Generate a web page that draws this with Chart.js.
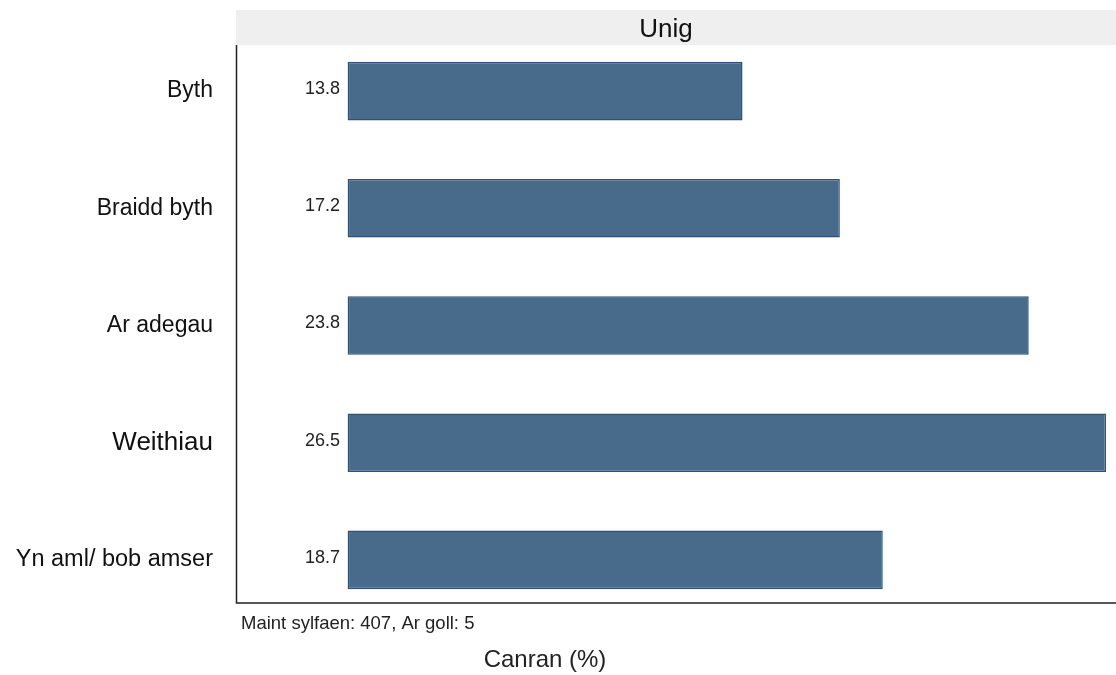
<!DOCTYPE html>
<html>
<head>
<meta charset="utf-8">
<script src="https://cdn.jsdelivr.net/npm/chart.js@4/dist/chart.umd.min.js"></script>
<style>
  html, body { margin: 0; padding: 0; background: #fff; }
  #wrap { width: 1116px; height: 675px; position: relative; }
</style>
</head>
<body>
<div id="wrap"><canvas id="chart"></canvas></div>
<script>
// data
const categories = ["Byth", "Braidd byth", "Ar adegau", "Weithiau", "Yn aml/ bob amser"];
const values = [13.8, 17.2, 23.8, 26.5, 18.7];
const panelTitle = "Unig";
const baseNote = "Maint sylfaen: 407, Ar goll: 5";
const axisTitle = "Canran (%)";

const FONT = "'Liberation Sans', Arial, sans-serif";

// frame, facet strip, value labels and notes
const decor = {
    id: "decor",
    beforeDatasetsDraw(chart) {
        let ctx = chart.ctx;
        let area = chart.chartArea;
        ctx.save();
        // strip
        ctx.fillStyle = "#efefef";
        ctx.fillRect(area.left, 10, area.right - area.left, 35);
        ctx.fillStyle = "#111";
        ctx.font = "26px " + FONT;
        ctx.textAlign = "center";
        ctx.textBaseline = "middle";
        ctx.fillText(panelTitle, 666, 30);
        // axis lines
        ctx.strokeStyle = "#222";
        ctx.lineWidth = 1.5;
        ctx.beginPath();
        ctx.moveTo(area.left + 0.5, 45);
        ctx.lineTo(area.left + 0.5, 603);
        ctx.lineTo(area.right, 603);
        ctx.stroke();
        ctx.restore();
    },
    afterDatasetsDraw(chart) {
        let ctx = chart.ctx;
        let xs = chart.scales.x;
        let ys = chart.scales.y;
        ctx.save();
        ctx.fillStyle = "#222";
        ctx.font = "18px " + FONT;
        ctx.textAlign = "right";
        ctx.textBaseline = "middle";
        for (let i = 0; i < values.length; i++) {
            ctx.fillText(values[i].toFixed(1), xs.getPixelForValue(0) - 7.5, ys.getPixelForValue(i) - 2);
        };
        ctx.textAlign = "left";
        ctx.font = "18.5px " + FONT;
        ctx.fillText(baseNote, 241, 624);
        ctx.font = "24px " + FONT;
        ctx.textAlign = "center";
        ctx.fillText(axisTitle, 545, 660);
        ctx.restore();
    }
};

new Chart(document.getElementById("chart"), {
    type: "bar",
    data: {
        labels: categories,
        datasets: [{
            data: values,
            backgroundColor: "#486b8c",
            borderColor: "#2c5277",
            borderWidth: 1.5,
            borderSkipped: false,
            barPercentage: 0.5,
            categoryPercentage: 1
        }]
    },
    options: {
        indexAxis: "y",
        responsive: true,
        maintainAspectRatio: false,
        animation: false,
        layout: {
            padding: { top: 32.5, bottom: 56.5, right: 0, left: 0 }
        },
        plugins: {
            legend: { display: false },
            tooltip: { enabled: false }
        },
        scales: {
            x: {
                display: false,
                min: -3.9,
                max: 26.85
            },
            y: {
                afterFit: (s) => {
                    s.width = 236;
                    s.paddingTop = 0;
                    s.paddingBottom = 0;
                },
                grid: { display: false, drawTicks: false },
                border: { display: false },
                ticks: {
                    padding: 23,
                    color: "#111",
                    font: (c) => ({ family: FONT, size: c.index === 3 ? 26 : (c.index === 4 ? 23.5 : 23) })
                }
            }
        }
    },
    plugins: [decor]
});
</script>
</body>
</html>
